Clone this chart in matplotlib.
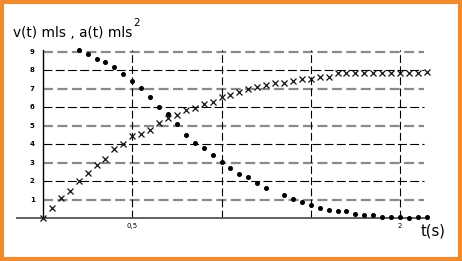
import matplotlib.pyplot as plt
from matplotlib.patches import Rectangle

# temps (s) et vitesse v(t)
t_v = [0.00, 0.05, 0.10, 0.15, 0.20, 0.25, 0.30, 0.35, 0.40, 0.45, 0.50,
       0.55, 0.60, 0.65, 0.70, 0.75, 0.80, 0.85, 0.90, 0.95, 1.00, 1.05,
       1.10, 1.15, 1.20, 1.25, 1.30, 1.35, 1.40, 1.45, 1.50, 1.55, 1.60,
       1.65, 1.70, 1.75, 1.80, 1.85, 1.90, 1.95, 2.00, 2.05, 2.10, 2.15]
v = [0.00, 0.54, 1.09, 1.48, 1.99, 2.45, 2.88, 3.19, 3.75, 4.00, 4.42,
     4.55, 4.78, 5.16, 5.45, 5.60, 5.83, 5.94, 6.18, 6.30, 6.54, 6.65,
     6.85, 7.01, 7.10, 7.19, 7.32, 7.32, 7.45, 7.54, 7.54, 7.65, 7.65,
     7.84, 7.88, 7.84, 7.88, 7.88, 7.88, 7.88, 7.84, 7.88, 7.84, 7.93]

# temps (s) et acceleration a(t)
t_a = [0.20, 0.25, 0.30, 0.35, 0.40, 0.45, 0.50, 0.55, 0.60, 0.65, 0.70,
       0.75, 0.80, 0.85, 0.90, 0.95, 1.00, 1.05, 1.10, 1.15, 1.20, 1.25,
       1.35, 1.40, 1.45, 1.50, 1.55, 1.60, 1.65, 1.70, 1.75, 1.80, 1.85,
       1.90, 1.95, 2.00, 2.05, 2.10, 2.15]
a = [9.11, 8.91, 8.62, 8.46, 8.19, 7.81, 7.41, 7.05, 6.58, 6.03, 5.64,
     5.09, 4.52, 4.09, 3.79, 3.41, 3.01, 2.70, 2.41, 2.23, 1.92, 1.61,
     1.23, 1.05, 0.85, 0.72, 0.56, 0.45, 0.38, 0.38, 0.22, 0.16, 0.16,
     0.05, 0.05, 0.05, 0.00, 0.05, 0.05]

y_ticks = [1, 2, 3, 4, 5, 6, 7, 8, 9]
x_grid = [0.5, 1.0, 1.5, 2.0]
x_labels = {0.5: '0,5', 2.0: '2'}

fig = plt.figure(figsize=(4.62, 2.61), dpi=100)
ax = fig.add_axes([0, 0, 1, 1])
# origine a (43, 218) px, 178.5 px par seconde, 18.44 px par unite
ax.set_xlim(-43 / 178.5, (462 - 43) / 178.5)
ax.set_ylim((218 - 261) / 18.44, 218 / 18.44)
ax.axis('off')

# grille horizontale : gris epais pour les impairs, noir fin pour les pairs
x_end = (424 - 43) / 178.5
for y in y_ticks:
    if y % 2 == 1:
        ax.plot([0, x_end], [y, y], color='#8a8a8a', lw=1.6, dashes=(4.5, 2.0), zorder=1)
    else:
        ax.plot([0, x_end], [y, y], color='black', lw=0.8, dashes=(8, 3), zorder=1)
    ax.text(-0.06, y, str(y), fontsize=5, ha='center', va='center', fontweight='bold')

# grille verticale
for x in x_grid:
    ax.plot([x, x], [0, 9.1], color='black', lw=0.8, dashes=(7, 3), zorder=1)
for x, lab in x_labels.items():
    ax.text(x, -0.45, lab, fontsize=5, ha='center', va='center')

# axes
ax.plot([0, 0], [0, 9.1], color='black', lw=1.0, zorder=2)
ax.plot([-26 / 178.5, (428 - 43) / 178.5], [0, 0], color='#555555', lw=1.3, zorder=2)

# donnees
ax.plot(t_v, v, 'x', color='#111111', ms=4.2, mew=0.9, zorder=3)
ax.plot(t_a, a, 'o', color='black', ms=2.6, zorder=3)

# titres
ax.text(-30 / 178.5, (218 - 37) / 18.44, 'v(t) mls , a(t) mls', fontsize=9.8, ha='left', va='baseline')
ax.text(90 / 178.5, (218 - 26) / 18.44, '2', fontsize=7.5, ha='left', va='baseline')
ax.text((421 - 43) / 178.5, (218 - 236) / 18.44, 't(s)', fontsize=10.5, ha='left', va='baseline')

# cadre orange
fig.patches.append(Rectangle((2 / 462, 2 / 261), 458 / 462, 257 / 261, transform=fig.transFigure,
                             fill=False, edgecolor='#ef8a2e', lw=3, zorder=10))

fig.savefig('out.png', dpi=100)
